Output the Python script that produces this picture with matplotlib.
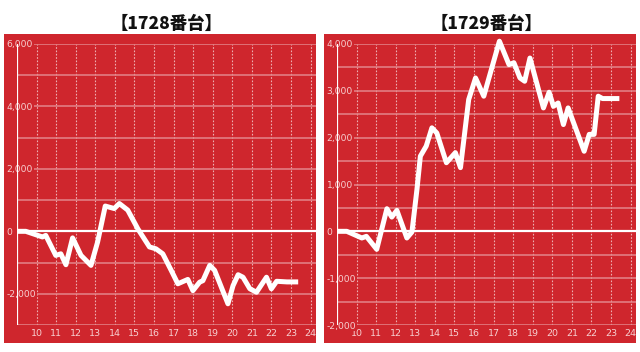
import matplotlib.pyplot as plt
from matplotlib.patches import Rectangle
from matplotlib.ticker import MultipleLocator, FuncFormatter

plt.rcParams['font.family'] = ['Noto Sans CJK JP', 'DejaVu Sans']

# hours (9 = start of the day) and balance per machine
hours_1728 = [9.0, 9.45, 10.3, 10.47, 10.98, 11.24, 11.5, 11.84, 12.27, 12.78,
              13.12, 13.51, 13.97, 14.23, 14.66, 15.17, 15.77, 16.1, 16.45,
              16.88, 17.22, 17.73, 17.99, 18.33, 18.5, 18.85, 19.1, 19.78,
              20.04, 20.3, 20.55, 20.9, 21.24, 21.75, 22.0, 22.27, 22.8, 23.37]
values_1728 = [0, 0, -180, -130, -770, -720, -1070, -210, -770, -1090,
               -340, 810, 730, 890, 680, 85, -500, -560, -720,
               -1250, -1680, -1540, -1900, -1630, -1580, -1090, -1250, -2320,
               -1740, -1390, -1470, -1840, -1950, -1470, -1840, -1600, -1620, -1620]

hours_1729 = [9.0, 9.5, 10.27, 10.5, 11.03, 11.55, 11.8, 12.06, 12.57, 12.83,
              13.09, 13.26, 13.56, 13.85, 14.1, 14.59, 15.05, 15.31, 15.73,
              16.08, 16.5, 17.3, 17.79, 18.04, 18.35, 18.59, 18.86, 19.55,
              19.84, 20.06, 20.3, 20.57, 20.81, 21.63, 21.89, 22.14, 22.35,
              22.57, 23.43]
values_1729 = [0, 0, -142, -107, -384, 483, 305, 448, -142, -14,
               910, 1605, 1820, 2210, 2100, 1465, 1680, 1360, 2815,
               3275, 2885, 4060, 3560, 3600, 3275, 3205, 3700, 2635,
               2970, 2670, 2740, 2280, 2635, 1710, 2070, 2070, 2885,
               2835, 2835]

titles = ['【1728番台】', '【1729番台】']
x_ticks = list(range(10, 25))

RED = '#CF262D'
GRID = '#E3858A'
DOT = '#EDAFB1'
LABEL = '#F7D0D1'

fig = plt.figure(figsize=(6.4, 3.52), dpi=100)
W, H = 640.0, 352.0

panels = [
    (0, hours_1728, values_1728, (-3000, 6000), 2000, 1000),
    (320, hours_1729, values_1729, (-2000, 4000), 1000, 500),
]

for i, (off, hrs, vals, ylim, major, minor) in enumerate(panels):
    # red panel background
    fig.patches.append(Rectangle(((off + 4) / W, (352 - 343) / H), 312 / W, 309 / H,
                                 transform=fig.transFigure, facecolor=RED,
                                 edgecolor='none', zorder=-5))
    ax = fig.add_axes([(off + 17) / W, (352 - 325) / H, 299 / W, 281 / H])
    ax.set_zorder(2)
    ax.set_facecolor('none')
    ax.set_xlim(9, 24.28)
    ax.set_ylim(*ylim)
    for s in ax.spines.values():
        s.set_visible(False)

    ax.yaxis.set_major_locator(MultipleLocator(major))
    ax.yaxis.set_minor_locator(MultipleLocator(minor))
    ax.yaxis.set_major_formatter(FuncFormatter(lambda v, p: f'{int(v):,}'))
    ax.set_xticks(x_ticks)
    ax.set_xticklabels([str(t) for t in x_ticks])

    ax.grid(axis='y', which='both', color=GRID, lw=1.1)
    ax.grid(axis='x', which='major', color=DOT, lw=0.8, ls=(0, (1.5, 1.5)))
    ax.tick_params(axis='both', which='both', length=0)
    ax.tick_params(axis='y', pad=7.4, labelsize=6.6, labelcolor=LABEL)
    ax.tick_params(axis='x', pad=3.0, labelsize=6.8, labelcolor=LABEL)
    for lab in ax.get_yticklabels():
        lab.set_ha('left')
        lab.set_family('DejaVu Sans')
        lab.set_bbox(dict(facecolor=RED, edgecolor='none', pad=0.6))
    for lab in ax.get_xticklabels():
        lab.set_family('DejaVu Sans')

    ax.axhline(0, color='white', lw=1.6, zorder=1.8)
    ax.axvline(9, color='white', lw=1.6, zorder=1.6)
    ax.plot(hrs, vals, color='white', lw=3.6, solid_capstyle='butt', zorder=3,
            clip_on=False)

    ax.set_title(titles[i], fontsize=12.5, fontweight='black', color='#111111',
                 pad=10.5)

fig.savefig('out.png', dpi=100, facecolor='white')
